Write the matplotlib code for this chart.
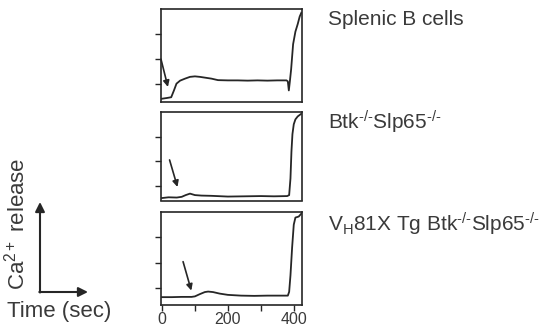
import matplotlib
matplotlib.use('Agg')
import matplotlib.pyplot as plt

plt.rcParams['font.family'] = ['Liberation Sans', 'DejaVu Sans']
plt.rcParams['mathtext.fontset'] = 'custom'
plt.rcParams['mathtext.rm'] = 'Liberation Sans'
plt.rcParams['mathtext.it'] = 'Liberation Sans:italic'

INK = '#262626'
TXT = '#3a3a3a'

# Ca2+ traces, time in sec
t_splenic = [0, 15, 28, 36, 44, 55, 70, 85, 100, 115, 130, 150, 170, 200, 230, 260,
             290, 320, 350, 378, 382, 385, 388, 392, 398, 405, 412, 418, 423]
v_splenic = [0.43, 0.46, 0.49, 0.75, 1.03, 1.15, 1.23, 1.30, 1.32, 1.30, 1.27, 1.23, 1.17,
             1.16, 1.16, 1.15, 1.16, 1.15, 1.16, 1.16, 1.12, 0.76, 1.10, 1.60, 2.60, 3.10,
             3.40, 3.70, 3.85]

t_dko = [0, 20, 45, 60, 72, 85, 100, 120, 150, 200, 250, 300, 340, 380, 386, 390, 393,
         396, 400, 405, 412, 422]
v_dko = [0.50, 0.53, 0.52, 0.55, 0.62, 0.68, 0.62, 0.60, 0.59, 0.56, 0.57, 0.58, 0.57,
         0.58, 0.62, 1.30, 2.40, 3.10, 3.50, 3.70, 3.82, 3.92]

t_tg = [0, 30, 60, 90, 100, 115, 130, 140, 155, 175, 200, 240, 280, 320, 360, 382, 386,
        390, 395, 400, 405, 415, 424]
v_tg = [0.64, 0.64, 0.65, 0.65, 0.67, 0.76, 0.84, 0.86, 0.84, 0.78, 0.73, 0.70, 0.69,
        0.70, 0.70, 0.70, 0.85, 1.50, 2.60, 3.50, 3.78, 3.82, 3.95]

labels = ['Splenic B cells',
          r'Btk$^{\text{-/-}}$Slp65$^{\text{-/-}}$',
          r'V$_{\text{H}}$81X Tg Btk$^{\text{-/-}}$Slp65$^{\text{-/-}}$']

# arrow tail/head (sec, signal)
arrow_from = [(-3, 2.0), (23, 2.05), (64, 2.04)]
arrow_to = [(18, 0.9), (47, 0.95), (89, 0.9)]

W, H = 539, 330
fig = plt.figure(figsize=(W / 100, H / 100), dpi=100)

# panel boxes in pixels: (top, bottom), ylim
boxes = [(9, 102, (0.30, 4.0)), (112, 200.5, (0.40, 4.0)), (212, 305, (0.33, 4.0))]
series = [(t_splenic, v_splenic), (t_dko, v_dko), (t_tg, v_tg)]

left, right = 161, 302
for i, ((top, bot, yl), (t, v)) in enumerate(zip(boxes, series)):
    ax = fig.add_axes([left / W, 1 - bot / H, (right - left) / W, (bot - top) / H])
    ax.plot(t, v, color=INK, lw=1.3)
    ax.set_xlim(-3, 425)
    ax.set_ylim(*yl)
    ax.set_yticks([1, 2, 3])
    ax.set_yticklabels([])
    for s in ax.spines.values():
        s.set_linewidth(1.2)
        s.set_color(INK)
    ax.tick_params(direction='out', length=4, width=1, color=INK)
    if i == 2:
        ax.set_xticks([0, 100, 200, 300, 400])
        ax.set_xticklabels(['0', '', '200', '', '400'], fontsize=11.5, color=TXT)
        ax.tick_params(axis='x', pad=1)
    else:
        ax.set_xticks([])
    ax.annotate('', xy=arrow_to[i], xytext=arrow_from[i],
                arrowprops=dict(arrowstyle='-|>', color=INK, lw=1.2,
                                mutation_scale=9, shrinkA=0, shrinkB=0))

# overlay in pixel coords for text and axis key
ov = fig.add_axes([0, 0, 1, 1])
ov.set_xlim(0, W)
ov.set_ylim(H, 0)
ov.axis('off')

ov.text(328, 25, labels[0], fontsize=15, color=TXT, va='baseline')
ov.text(328, 130, labels[1], fontsize=15, color=TXT, va='baseline')
ov.text(328, 232, labels[2], fontsize=15, color=TXT, va='baseline')

ov.annotate('', xy=(40, 202), xytext=(40, 292.5),
            arrowprops=dict(arrowstyle='-|>', color=INK, lw=1.5,
                            mutation_scale=14, shrinkA=0, shrinkB=0))
ov.annotate('', xy=(88, 292), xytext=(39.3, 292),
            arrowprops=dict(arrowstyle='-|>', color=INK, lw=1.5,
                            mutation_scale=14, shrinkA=0, shrinkB=0))
ov.text(17, 290, r'Ca$^{2+}$ release', rotation=90, fontsize=16, color=TXT,
        ha='center', va='bottom')
ov.text(7, 312, 'Time (sec)', fontsize=16, color=TXT, ha='left', va='center')

fig.savefig('out.png', dpi=100)
